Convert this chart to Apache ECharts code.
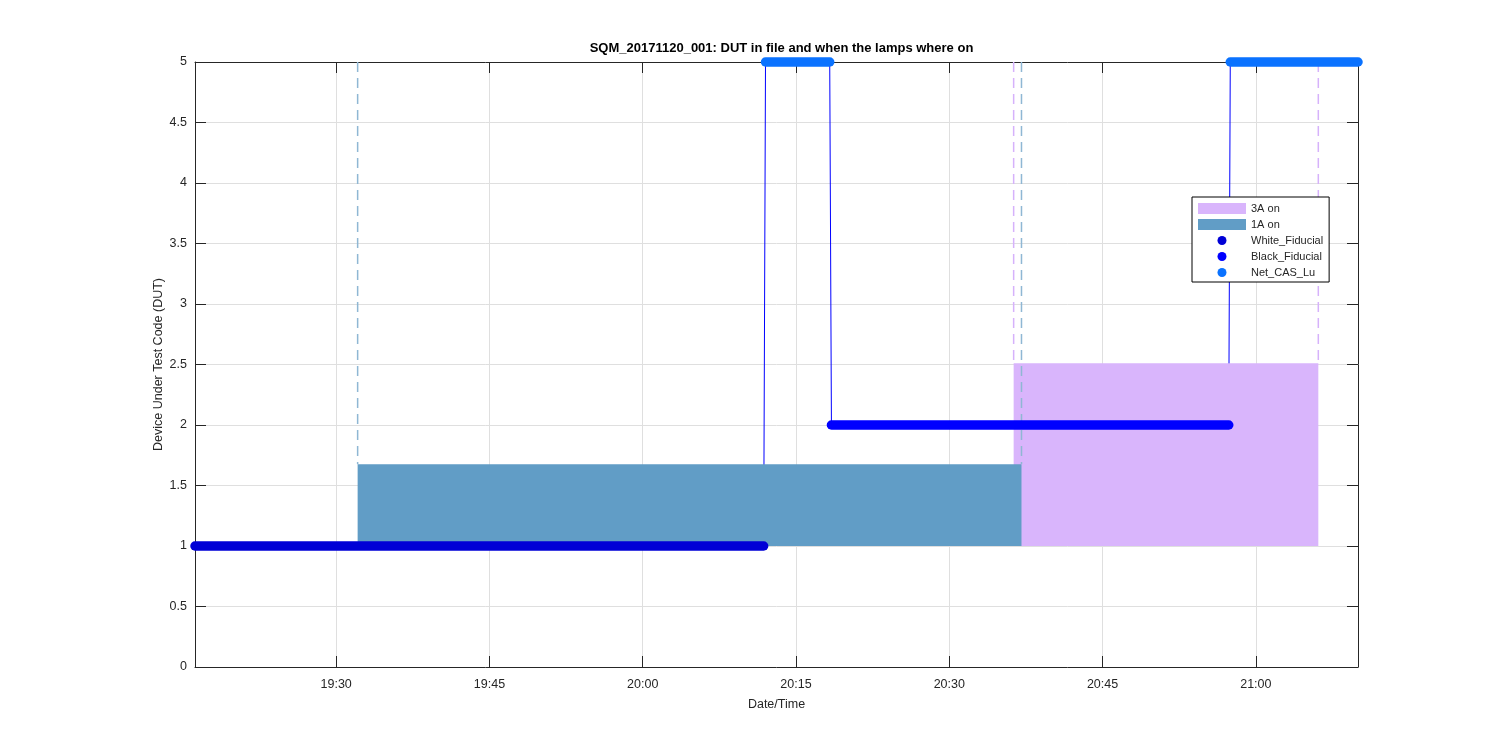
<!DOCTYPE html>
<html>
<head>
<meta charset="utf-8">
<script src="https://cdn.jsdelivr.net/npm/echarts@6/dist/echarts.min.js"></script>
<style>
html,body{margin:0;padding:0;background:#fff;}
#chart{width:1500px;height:750px;}
</style>
</head>
<body>
<div id="chart"></div>
<script>
// ---- data (times as HH:MM:SS) ----
const xRange = ['19:16:11', '21:10:00'];
const xTickLabels = ['19:30', '19:45', '20:00', '20:15', '20:30', '20:45', '21:00'];
const yRange = [0, 5];

// DUT code trace (thin connecting line)
const dutTimes  = ['19:16:11', '20:11:50', '20:12:01', '20:18:18', '20:18:28', '20:57:21', '20:57:30', '21:10:00'];
const dutValues = [1, 1, 5, 5, 2, 2, 5, 5];

// marker runs: [start, end] and value
const whiteFiducialTimes = ['19:16:11', '20:11:50'];
const whiteFiducialValue = 1;
const blackFiducialTimes = ['20:18:28', '20:57:21'];
const blackFiducialValue = 2;
const netCasLuRun1 = ['20:12:01', '20:18:18'];
const netCasLuRun2 = ['20:57:30', '21:10:00'];
const netCasLuValue = 5;

// lamp on periods: [start, end], [bottom, top]
const lamp3ATimes = ['20:36:18', '21:06:07'];
const lamp3ALevels = [1, 2.51];
const lamp1ATimes = ['19:32:06', '20:37:04'];
const lamp1ALevels = [1, 1.675];

// ---- helpers ----
function toMin(s) {
  const p = s.split(':').map(Number);
  return p[0] * 60 + p[1] + (p[2] || 0) / 60;
}
function fmt(v) {
  const tot = Math.round(v);
  const h = Math.floor(tot / 60), m = tot % 60;
  return (h < 10 ? '0' : '') + h + ':' + (m < 10 ? '0' : '') + m;
}
const xMin = toMin(xRange[0]), xMax = toMin(xRange[1]);
const tickVals = xTickLabels.map(toMin);
const FONT = "'Liberation Sans', Arial, Helvetica, sans-serif";
const TXT = '#262626';

const yTop = yRange[1];
function lampRender(fill, dash) {
  return function (params, api) {
    const t0 = api.value(0), t1 = api.value(1), b = api.value(2), t = api.value(3);
    const pTL = api.coord([t0, t]);
    const pBR = api.coord([t1, b]);
    const topL = api.coord([t0, yTop]);
    const topR = api.coord([t1, yTop]);
    const ls = { stroke: dash, lineWidth: 1.5, lineDash: [10, 6], fill: null };
    return {
      type: 'group',
      children: [
        { type: 'rect', shape: { x: pTL[0], y: pTL[1], width: pBR[0] - pTL[0], height: pBR[1] - pTL[1] }, style: { fill: fill } },
        { type: 'line', shape: { x1: pTL[0], y1: topL[1], x2: pTL[0], y2: pTL[1] }, style: ls },
        { type: 'line', shape: { x1: pBR[0], y1: topR[1], x2: pBR[0], y2: pTL[1] }, style: ls }
      ]
    };
  };
}

const dotIcon = 'path://M0,0 M11,11 M10,5.5 A4.5,4.5 0 1 1 1,5.5 A4.5,4.5 0 1 1 10,5.5 Z';

const C3A = '#d9b5fc', C1A = '#619dc6';
const CWHITE = '#0000d6', CBLACK = '#0000ff', CNET = '#0a72ff';

function runSeries(name, times, value, color, z) {
  return {
    name: name, type: 'line', xAxisIndex: 0, yAxisIndex: 0,
    data: times.map(t => [toMin(t), value]),
    symbol: 'none', clip: false, silent: true, z: z,
    itemStyle: { color: color },
    lineStyle: { color: color, width: 9.5, cap: 'round' },
    animation: false
  };
}

const axisCommon = {
  type: 'value', min: xMin, max: xMax,
  axisLine: { show: true, onZero: false, lineStyle: { color: TXT, width: 1 } },
  axisTick: { show: true, inside: true, length: 11, customValues: tickVals, lineStyle: { color: TXT, width: 1 } }
};

const option = {
  animation: false,
  backgroundColor: '#ffffff',
  title: {
    text: 'SQM_20171120_001: DUT in file and when the lamps where on',
    left: 776.5, textAlign: 'center', top: 37,
    textStyle: { fontFamily: FONT, fontSize: 13, fontWeight: 'bold', color: '#000' }
  },
  grid: { left: 195, right: 142, top: 62, bottom: 83, containLabel: false },
  legend: {
    orient: 'vertical', left: 1192, top: 197,
    padding: [6, 6, 4, 6],
    backgroundColor: '#ffffff', borderColor: '#000000', borderWidth: 1, borderRadius: 0,
    itemWidth: 48, itemHeight: 11, itemGap: 5,
    itemStyle: { borderWidth: 0 },
    textStyle: { fontFamily: FONT, fontSize: 11, color: TXT },
    selectedMode: false,
    data: [
      { name: '3A on', icon: 'rect' },
      { name: '1A on', icon: 'rect' },
      { name: 'White_Fiducial', icon: dotIcon },
      { name: 'Black_Fiducial', icon: dotIcon },
      { name: 'Net_CAS_Lu', icon: dotIcon }
    ]
  },
  xAxis: [
    Object.assign({}, axisCommon, {
      position: 'bottom',
      name: 'Date/Time', nameLocation: 'middle', nameGap: 31,
      nameTextStyle: { fontFamily: FONT, fontSize: 12.5, color: TXT },
      axisLabel: { customValues: tickVals, formatter: fmt, margin: 11, fontFamily: FONT, fontSize: 12.5, color: TXT },
      splitLine: { show: true, lineStyle: { color: '#dfdfdf', width: 1 } }
    }),
    Object.assign({}, axisCommon, {
      position: 'top',
      axisLabel: { show: false },
      splitLine: { show: false }
    })
  ],
  yAxis: [
    {
      type: 'value', min: yRange[0], max: yRange[1], interval: 0.5, position: 'left',
      name: 'Device Under Test Code (DUT)', nameLocation: 'middle', nameGap: 30, nameRotate: 90,
      nameMoveOverlap: false,
      nameTextStyle: { fontFamily: FONT, fontSize: 12.5, color: TXT },
      axisLine: { show: true, onZero: false, lineStyle: { color: TXT, width: 1 } },
      axisTick: { show: true, inside: true, length: 11, lineStyle: { color: TXT, width: 1 } },
      axisLabel: { margin: 8, fontFamily: FONT, fontSize: 12.5, color: TXT },
      splitLine: { show: true, lineStyle: { color: '#dfdfdf', width: 1 } }
    },
    {
      type: 'value', min: yRange[0], max: yRange[1], interval: 0.5, position: 'right',
      axisLine: { show: true, onZero: false, lineStyle: { color: TXT, width: 1 } },
      axisTick: { show: true, inside: true, length: 11, lineStyle: { color: TXT, width: 1 } },
      axisLabel: { show: false },
      splitLine: { show: false }
    }
  ],
  series: [
    {
      name: 'DUT', type: 'line', xAxisIndex: 0, yAxisIndex: 0,
      data: dutTimes.map((t, i) => [toMin(t), dutValues[i]]),
      symbol: 'none', silent: true, z: 1,
      lineStyle: { color: '#0000ff', width: 1 }, itemStyle: { color: '#0000ff' }
    },
    {
      name: '3A on', type: 'custom', xAxisIndex: 0, yAxisIndex: 0, z: 2,
      itemStyle: { color: C3A },
      data: [[toMin(lamp3ATimes[0]), toMin(lamp3ATimes[1]), lamp3ALevels[0], lamp3ALevels[1]]],
      encode: { x: [0, 1], y: [2, 3] },
      renderItem: lampRender(C3A, '#d6b2fb'), silent: true
    },
    {
      name: '1A on', type: 'custom', xAxisIndex: 0, yAxisIndex: 0, z: 3,
      itemStyle: { color: C1A },
      data: [[toMin(lamp1ATimes[0]), toMin(lamp1ATimes[1]), lamp1ALevels[0], lamp1ALevels[1]]],
      encode: { x: [0, 1], y: [2, 3] },
      renderItem: lampRender(C1A, '#8fb7d4'), silent: true
    },
    runSeries('White_Fiducial', whiteFiducialTimes, whiteFiducialValue, CWHITE, 5),
    runSeries('Black_Fiducial', blackFiducialTimes, blackFiducialValue, CBLACK, 5),
    runSeries('Net_CAS_Lu', netCasLuRun1, netCasLuValue, CNET, 6),
    runSeries('Net_CAS_Lu', netCasLuRun2, netCasLuValue, CNET, 6)
  ]
};

const chart = echarts.init(document.getElementById('chart'), null, { renderer: 'canvas' });
chart.setOption(option);
</script>
</body>
</html>
